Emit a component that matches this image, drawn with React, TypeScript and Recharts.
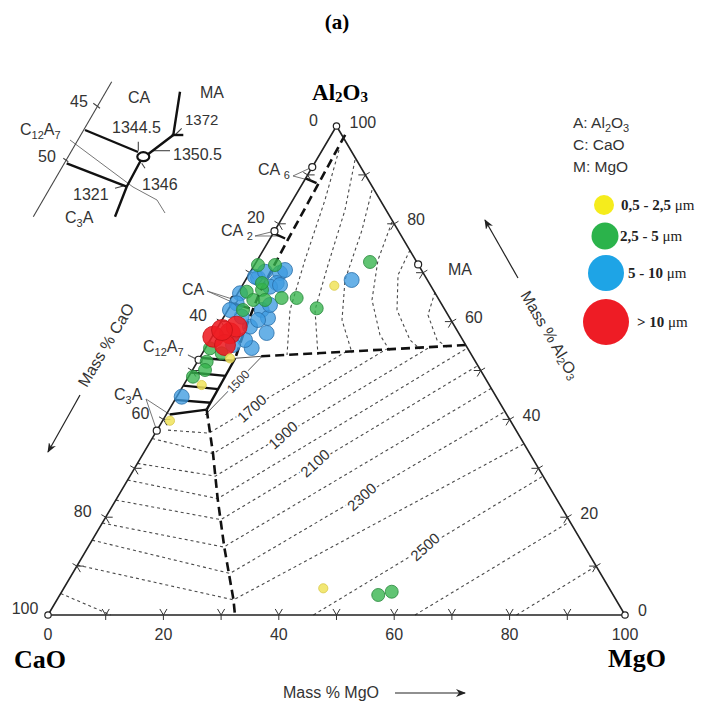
import React from 'react';
import { ScatterChart, Scatter, XAxis, YAxis } from 'recharts';

const W = 701;
const H = 707;
const SANS = "'Liberation Sans', Arial, sans-serif";
const SERIF = "'Liberation Serif', 'Times New Roman', serif";

// Ternary plane: X = MgO + Al2O3/2 , Y = Al2O3 (mass %)
const X_DOMAIN: [number, number] = [-8.319, 113.172];
const Y_DOMAIN: [number, number] = [-18.814, 125.767];

type MA = [number, number]; // [MgO %, Al2O3 %]

// ---------- inclusion data (MgO %, Al2O3 %) ----------
const YELLOW_PTS: MA[] = [[15.95, 67.34], [5.29, 52.49], [3.12, 47.03], [1.27, 39.73], [44.98, 5.46]];
const GREEN_PTS: MA[] = [
  [19.71, 72.19], [15.21, 62.72], [10.68, 64.83], [8.08, 64.83], [1.38, 66.12], [3.37, 64.42],
  [0.81, 54.54], [3.34, 53.52], [1.6, 51.8], [2.16, 50.1], [0.76, 48.73], [55.19, 4.09], [57.19, 4.76],
  [3.84, 66.5], [5.4, 64.42], [2.61, 62.37], [3.55, 71.57], [3.14, 67.89], [0.61, 71.57],
];
const BLUE_PTS: MA[] = [
  [18.37, 68.51], [5.24, 69.94], [1.94, 68.92], [5.69, 67.89], [1.29, 69.18], [2.51, 70.2], [4.9, 67.14],
  [6.47, 67.48], [0.38, 65.79], [0.83, 63.74], [5.85, 62.37], [7.76, 60.74], [9.06, 57.67], [5.53, 58.96],
  [8.0, 54.6], [3.07, 61.0], [0.85, 44.64], [6.77, 63.4], [6.24, 60.33], [6.02, 56.24], [4.46, 55.21],
  [5.8, 70.55], [0.35, 62.37],
];
const RED_PTS: MA[] = [[2.73, 57.61], [0.19, 56.91], [3.22, 58.96], [3.07, 55.21], [1.02, 58.28]];

// ---------- diagram geometry (MgO %, Al2O3 %) ----------
const EDGES: MA[] = [[0, 100], [0, 0], [100, 0], [0, 100]];
const VERTICES: MA[] = [[0, 100], [0, 0], [100, 0]];
const COMPOUNDS: MA[] = [[0, 91.6], [0, 78.5], [0, 64.5], [0, 52.2], [0, 37.7], [28.3, 71.7]];

const FIELD_BOUNDARIES_DASHED: MA[][] = [
  [[2.4, 98.2], [3.2, 76.7], [3.7, 66], [5.0, 58], [6.2, 52.5]],
  [[10.5, 52.9], [44.8, 55.2]],
  [[6.5, 42.0], [12.1, 33.0], [17.5, 23.8], [23.6, 13.9], [30.6, 3.1], [32.4, 0]],
];
const FIELD_BOUNDARIES_SOLID: MA[][] = [
  [[6.2, 52.5], [6.5, 42.0]],
  [[0.6, 41.0], [6.5, 42.0]],
  [[0, 89.3], [2.4, 88.3]],
  [[0, 78.1], [2.6, 77.0]],
  [[0, 63.8], [3.6, 62.7]],
  [[0, 52.6], [6.2, 52.0]],
  [[0, 49.6], [6.3, 48.9]],
  [[0, 46.9], [6.4, 46.2]],
  [[0, 44.0], [6.5, 43.4]],
];
const THIN_LINES: MA[][] = [
  [[6.2, 52.5], [10.5, 52.9]],
  [[6.76, 40.9], [10.73, 53.17]],
];
const LEADERS: MA[][] = [
  [[0, 91.6], [-2.43, 89.78], [1.2, 88.8]],
  [[0, 78.5], [-2.88, 77.51], [1.3, 77.5]],
  [[0, 64.5], [-5.57, 66.26], [1.8, 63.2]],
  [[0, 52.2], [-2.33, 53.17], [1.0, 51.6]],
  [[0, 37.7], [-5.1, 44.17], [0.6, 41.0]],
];
const ISOTHERMS: MA[][] = [
  [[1.9, 37.8], [9.3, 37.2], [24.8, 53.9]],
  [[0, 36.1], [12.1, 33.0], [31.5, 54.4]],
  [[0, 31.0], [14.8, 28.4], [38.8, 54.8]],
  [[0, 27.6], [17.5, 23.8], [45.4, 54.6]],
  [[0, 23.5], [20.2, 19.5], [49.0, 51.0]],
  [[0, 18.8], [23.5, 13.9], [53.7, 46.4]],
  [[0, 15.3], [27.3, 8.5], [58.4, 41.6]],
  [[0, 10.2], [30.6, 3.1], [65.0, 35.0]],
  [[0, 4.4], [10.9, 0]],
  [[46.0, 0], [71.6, 28.4]],
  [[63.6, 0], [80.9, 19.1]],
  [[81.2, 0], [90.0, 10.0]],
  // spinel field arcs
  [[2.89, 95.09], [5.57, 84.87], [8.24, 72.6], [10.76, 62.37], [14.84, 53.17]],
  [[6.68, 93.05], [10.06, 82.82], [12.74, 71.57], [15.09, 62.37], [20.2, 53.17]],
  [[12.7, 86.91], [15.06, 78.73], [17.22, 68.51], [20.79, 60.33], [25.9, 53.58]],
  [[19.43, 80.37], [20.89, 72.6], [23.94, 64.42], [28.91, 57.26], [32.28, 53.99]],
  [[25.42, 74.64], [25.9, 69.53], [29.3, 62.37], [34.62, 56.24], [37.27, 54.4]],
  [[34.05, 66.05], [35.18, 61.35], [39.3, 56.24], [41.74, 54.81]],
];
const ISO_LABEL_TEXT = ['1500', '1700', '1900', '2100', '2300', '2500'];
const ISO_LABEL_POS: MA[] = [[9.13, 47.71], [14.17, 42.27], [22.32, 36.81], [30.73, 31.08], [42.27, 24.19], [58.35, 13.97]];

const MINOR_TICKS = [10, 20, 30, 40, 50, 60, 70, 80, 90];
const TICK_LABELS = [0, 20, 40, 60, 80, 100];

// ---------- inset schematic (page coordinates) ----------
type P = [number, number];
const INSET_THIN: P[][] = [
  [[111.7, 81.7], [33.3, 216.7]],
  [[93.3, 103.3], [100, 108.3]],
  [[63.3, 158.3], [68.3, 161.7]],
  [[138.3, 141.7], [138.3, 150.7]],
  [[181.7, 128.3], [175, 135]],
  [[151.7, 150.7], [170, 150.7]],
  [[141.7, 163.3], [145, 168.3]],
  [[115, 188.3], [123.3, 186]],
];
const INSET_GRAY: P[][] = [[[70, 140], [133, 187], [157, 200], [165, 213]]];
const INSET_THICK: P[][] = [
  [[85, 130], [138, 152]],
  [[66.7, 163.3], [126.7, 186.7]],
  [[147, 155], [173.3, 135], [180, 91.7]],
  [[171.7, 135], [183.3, 135]],
  [[141, 160], [126.7, 186.7], [115, 216.7]],
];
const INSET_NODE: P[] = [[143.3, 156.7]];

const tp = ([m, a]: MA) => ({ x: m + a / 2, y: a });
const pp = ([x, y]: P) => ({ x, y });

const Empty = () => <g />;

const dot = (r: number, fill: string, stroke: string, op: number) => (p: any) => (
  <circle cx={p.cx} cy={p.cy} r={r} fill={fill} fillOpacity={op} stroke={stroke} strokeWidth={0.8} />
);
const openDot = (r: number) => (p: any) => (
  <circle cx={p.cx} cy={p.cy} r={r} fill="#fff" stroke="#222" strokeWidth={1.2} />
);

const tickShape = (edge: 'b' | 'l' | 'r') => (p: any) => {
  const { cx, cy } = p;
  const L = 7;
  const S = 5;
  let arms: number[][];
  let stem: number[];
  if (edge === 'b') {
    arms = [[0.51, -0.86], [-0.51, -0.86]];
    stem = [0, 1];
  } else if (edge === 'l') {
    arms = [[1, 0], [0.506, 0.862]];
    stem = [-0.86, -0.51];
  } else {
    arms = [[-1, 0], [-0.51, 0.86]];
    stem = [0.86, -0.51];
  }
  const d = `M${cx + arms[0][0] * L},${cy + arms[0][1] * L} L${cx},${cy} L${cx + arms[1][0] * L},${cy + arms[1][1] * L} M${cx},${cy} L${cx + stem[0] * S},${cy + stem[1] * S}`;
  return <path d={d} stroke="#333" strokeWidth={1} fill="none" />;
};

const textShape = (dx: number, dy: number, anchor: string, size: number) => (p: any) => (
  <text x={p.cx + dx} y={p.cy + dy} textAnchor={anchor} dominantBaseline="central" fontFamily={SANS} fontSize={size} fill="#333">
    {p.payload.label}
  </text>
);

const isoLabelShape = (p: any) => {
  const first = p.payload.label === '1500';
  return (
    <text
      transform={`translate(${p.cx},${p.cy}) rotate(${first ? -46 : -42})`}
      textAnchor="middle"
      dominantBaseline="central"
      fontFamily={SANS}
      fontSize={first ? 12 : 15}
      fill="#333"
      stroke="#fff"
      strokeWidth={4}
      paintOrder="stroke"
    >
      {p.payload.label}
    </text>
  );
};

const nodeShape = (p: any) => <ellipse cx={p.cx} cy={p.cy} rx={6} ry={4.5} fill="#fff" stroke="#111" strokeWidth={2.2} />;

const lineS = (pts: { x: number; y: number }[], key: string, stroke: string, width: number, dash?: string) => (
  <Scatter
    key={key}
    data={pts}
    line={{ stroke, strokeWidth: width, strokeDasharray: dash, fill: 'none' }}
    lineType="joint"
    shape={Empty}
    isAnimationActive={false}
  />
);

const bottomLabels = TICK_LABELS.map((v) => ({ ...tp([v, 0]), label: String(v) }));
const leftLabels = TICK_LABELS.map((v) => ({ ...tp([0, 100 - v]), label: String(v) }));
const rightLabels = TICK_LABELS.map((v) => ({ ...tp([100 - v, v]), label: String(v) }));

export default function App() {
  const sub = (t: string) => (
    <tspan fontSize={11} dy={4}>
      {t}
    </tspan>
  );
  return (
    <div style={{ position: 'absolute', left: 0, top: 0, width: W, height: H, background: '#fff' }}>
      <div style={{ position: 'absolute', left: 0, top: 0 }}>
        <ScatterChart width={W} height={H} margin={{ top: 0, right: 0, bottom: 0, left: 0 }}>
          <XAxis type="number" dataKey="x" domain={X_DOMAIN} hide allowDataOverflow />
          <YAxis type="number" dataKey="y" domain={Y_DOMAIN} hide allowDataOverflow />
          {ISOTHERMS.map((pts, i) => lineS(pts.map(tp), 'iso' + i, '#4a4a4a', 1.1, '3 3'))}
          {THIN_LINES.map((pts, i) => lineS(pts.map(tp), 'thin' + i, '#555', 1))}
          {LEADERS.map((pts, i) => lineS(pts.map(tp), 'lead' + i, '#666', 0.9))}
          {FIELD_BOUNDARIES_DASHED.map((pts, i) => lineS(pts.map(tp), 'bd' + i, '#111', 2.6, '9 5'))}
          {FIELD_BOUNDARIES_SOLID.map((pts, i) => lineS(pts.map(tp), 'bs' + i, '#111', 2.4))}
          {lineS(EDGES.map(tp), 'edges', '#222', 1.6)}
          <Scatter data={MINOR_TICKS.map((v) => tp([v, 0]))} shape={tickShape('b')} isAnimationActive={false} />
          <Scatter data={MINOR_TICKS.map((v) => tp([0, 100 - v]))} shape={tickShape('l')} isAnimationActive={false} />
          <Scatter data={MINOR_TICKS.map((v) => tp([100 - v, v]))} shape={tickShape('r')} isAnimationActive={false} />
          <Scatter data={bottomLabels} shape={textShape(0, 20, 'middle', 16)} isAnimationActive={false} />
          <Scatter data={leftLabels} shape={textShape(-23, -6, 'middle', 16)} isAnimationActive={false} />
          <Scatter data={rightLabels} shape={textShape(13, -4, 'start', 16)} isAnimationActive={false} />
          <Scatter
            data={ISO_LABEL_POS.map((q, i) => ({ ...tp(q), label: ISO_LABEL_TEXT[i] }))}
            shape={isoLabelShape}
            isAnimationActive={false}
          />
          <Scatter data={VERTICES.map(tp)} shape={openDot(3.2)} isAnimationActive={false} />
          <Scatter data={COMPOUNDS.map(tp)} shape={openDot(3.5)} isAnimationActive={false} />
          <Scatter data={BLUE_PTS.map(tp)} shape={dot(7.5, '#3d9be0', '#2a6fa8', 0.78)} isAnimationActive={false} />
          <Scatter data={GREEN_PTS.map(tp)} shape={dot(6.5, '#34b34c', '#26863a', 0.78)} isAnimationActive={false} />
          <Scatter data={RED_PTS.map(tp)} shape={dot(10.5, '#ee1c22', '#c31015', 0.88)} isAnimationActive={false} />
          <Scatter data={YELLOW_PTS.map(tp)} shape={dot(4.6, '#f0e35a', '#d9c94a', 0.85)} isAnimationActive={false} />
        </ScatterChart>
      </div>
      <div style={{ position: 'absolute', left: 0, top: 0 }}>
        <ScatterChart width={W} height={H} margin={{ top: 0, right: 0, bottom: 0, left: 0 }}>
          <XAxis type="number" dataKey="x" domain={[0, W]} hide allowDataOverflow />
          <YAxis type="number" dataKey="y" domain={[0, H]} hide reversed allowDataOverflow />
          {INSET_GRAY.map((pts, i) => lineS(pts.map(pp), 'ig' + i, '#777', 1))}
          {INSET_THIN.map((pts, i) => lineS(pts.map(pp), 'it' + i, '#444', 1.1))}
          {INSET_THICK.map((pts, i) => lineS(pts.map(pp), 'ik' + i, '#111', 2.4))}
          <Scatter data={INSET_NODE.map(pp)} shape={nodeShape} isAnimationActive={false} />
        </ScatterChart>
      </div>
      <svg width={W} height={H} style={{ position: 'absolute', left: 0, top: 0, pointerEvents: 'none' }}>
        <defs>
          <marker id="arr" markerWidth="10" markerHeight="8" refX="9" refY="4" orient="auto" markerUnits="userSpaceOnUse">
            <path d="M0,0 L10,4 L0,8 L3,4 z" fill="#222" />
          </marker>
        </defs>
        <text x={337} y={29} textAnchor="middle" fontFamily={SERIF} fontWeight="bold" fontSize={21}>(a)</text>
        <text x={340} y={100} textAnchor="middle" fontFamily={SERIF} fontWeight="bold" fontSize={23}>
          Al<tspan fontSize={15} dy={2}>2</tspan><tspan dy={-2}>O</tspan><tspan fontSize={15} dy={2}>3</tspan>
        </text>
        <text x={40} y={668} textAnchor="middle" fontFamily={SERIF} fontWeight="bold" fontSize={26}>CaO</text>
        <text x={637} y={667} textAnchor="middle" fontFamily={SERIF} fontWeight="bold" fontSize={26}>MgO</text>

        <text x={283} y={698} fontFamily={SANS} fontSize={16} fill="#333">Mass % MgO</text>
        <line x1={395} y1={693} x2={465} y2={693} stroke="#222" strokeWidth={1.2} markerEnd="url(#arr)" />
        <text transform="translate(106,345) rotate(-59.3)" textAnchor="middle" dominantBaseline="central" fontFamily={SANS} fontSize={16} fill="#333">Mass % CaO</text>
        <line x1={80} y1={395} x2={48} y2={452} stroke="#222" strokeWidth={1.2} markerEnd="url(#arr)" />
        <text transform="translate(550,335) rotate(59.3)" textAnchor="middle" dominantBaseline="central" fontFamily={SANS} fontSize={16} fill="#333">
          Mass % Al<tspan fontSize={11} dy={4}>2</tspan><tspan dy={-4}>O</tspan><tspan fontSize={11} dy={4}>3</tspan>
        </text>
        <line x1={518} y1={278} x2={485} y2={220} stroke="#222" strokeWidth={1.2} markerEnd="url(#arr)" />

        <g fontFamily={SANS} fontSize={15.5} fill="#333">
          <text x={573} y={128}>A: Al<tspan fontSize={11} dy={4}>2</tspan><tspan dy={-4}>O</tspan><tspan fontSize={11} dy={4}>3</tspan></text>
          <text x={573} y={150}>C: CaO</text>
          <text x={573} y={172}>M: MgO</text>
        </g>
        <circle cx={604} cy={205} r={10} fill="#f5ec1c" />
        <circle cx={605} cy={236} r={13.5} fill="#2bb34b" />
        <circle cx={606} cy={273} r={18} fill="#1ea4e6" />
        <circle cx={606} cy={322} r={23} fill="#ee1c25" />
        <g fontFamily={SERIF} fontWeight="bold" fontSize={15} fill="#222">
          <text x={621} y={210}>0,5 - 2,5 <tspan fontWeight="normal">μm</tspan></text>
          <text x={620} y={241}>2,5 - 5 <tspan fontWeight="normal">μm</tspan></text>
          <text x={628} y={278}>5 - 10 <tspan fontWeight="normal">μm</tspan></text>
          <text x={637} y={327}>&gt; 10 <tspan fontWeight="normal">μm</tspan></text>
        </g>

        <g fontFamily={SANS} fontSize={16} fill="#333">
          <text x={258} y={175}>CA {sub('6')}</text>
          <text x={221} y={236}>CA {sub('2')}</text>
          <text x={182} y={295}>CA</text>
          <text x={143} y={352}>C{sub('12')}<tspan dy={-4}>A</tspan>{sub('7')}</text>
          <text x={114} y={400}>C{sub('3')}<tspan dy={-4}>A</tspan></text>
          <text x={448} y={275}>MA</text>

          <text x={70} y={107}>45</text>
          <text x={128} y={103}>CA</text>
          <text x={200} y={98}>MA</text>
          <text x={20} y={135}>C{sub('12')}<tspan dy={-4}>A</tspan>{sub('7')}</text>
          <text x={112} y={133}>1344.5</text>
          <text x={185} y={125} fontSize={15}>1372</text>
          <text x={38} y={162}>50</text>
          <text x={173} y={160}>1350.5</text>
          <text x={142} y={190}>1346</text>
          <text x={73} y={200}>1321</text>
          <text x={65} y={223}>C{sub('3')}<tspan dy={-4}>A</tspan></text>
        </g>
      </svg>
    </div>
  );
}
